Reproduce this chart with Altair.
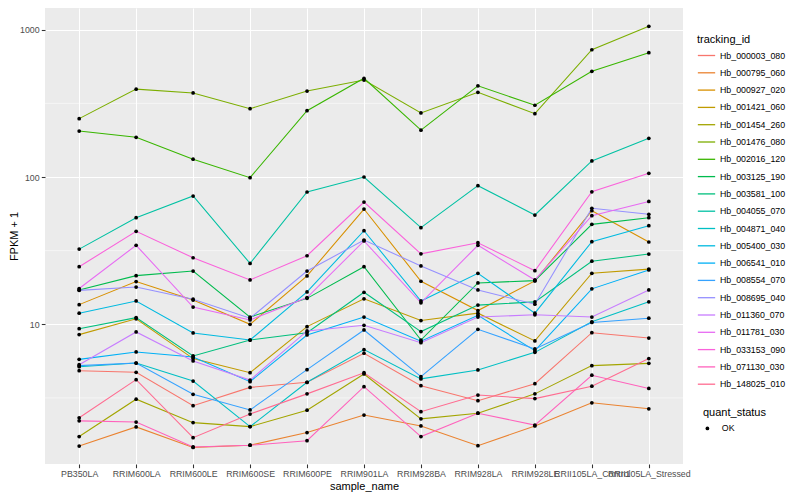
import altair as alt
import pandas as pd

samples = ["PB350LA", "RRIM600LA", "RRIM600LE", "RRIM600SE", "RRIM600PE", "RRIM901LA",
           "RRIM928BA", "RRIM928LA", "RRIM928LE", "RRII105LA_Control", "RRII105LA_Stressed"]

ids = ["Hb_000003_080", "Hb_000795_060", "Hb_000927_020", "Hb_001421_060", "Hb_001454_260",
       "Hb_001476_080", "Hb_002016_120", "Hb_003125_190", "Hb_003581_100", "Hb_004055_070",
       "Hb_004871_040", "Hb_005400_030", "Hb_006541_010", "Hb_008554_070", "Hb_008695_040",
       "Hb_011360_070", "Hb_011781_030", "Hb_033153_090", "Hb_071130_030", "Hb_148025_010"]

hb_000003_080 = [4.84, 4.72, 2.80, 3.73, 4.04, 6.36, 3.83, 3.03, 3.95, 8.77, 8.07]
hb_000795_060 = [1.49, 2.01, 1.46, 1.51, 1.84, 2.42, 2.04, 1.50, 2.04, 2.93, 2.67]
hb_000927_020 = [13.6, 19.5, 14.6, 10.0, 21.3, 60.6, 19.6, 12.4, 19.7, 59.0, 36.2]
hb_001421_060 = [8.51, 10.9, 5.85, 4.69, 9.64, 14.9, 10.6, 11.9, 7.71, 22.2, 23.7]
hb_001454_260 = [1.73, 3.10, 2.15, 2.02, 2.61, 4.60, 2.28, 2.49, 3.37, 5.24, 5.43]
hb_001476_080 = [249, 395, 372, 291, 383, 455, 272, 376, 269, 731, 1054]
hb_002016_120 = [205, 186, 132, 99, 282, 468, 208, 416, 307, 522, 698]
hb_003125_190 = [17.1, 21.4, 23.0, 11.2, 15.0, 24.6, 7.82, 19.1, 19.8, 47.7, 52.9]
hb_003581_100 = [9.33, 11.1, 6.1, 7.82, 8.77, 16.5, 8.92, 13.5, 14.2, 26.8, 30.0]
hb_004055_070 = [32.4, 52.9, 74.3, 25.9, 79.1, 100, 45.3, 87.3, 55.2, 128.5, 183]
hb_004871_040 = [5.15, 5.46, 4.12, 2.02, 4.04, 6.73, 4.26, 4.90, 6.45, 10.4, 14.2]
hb_005400_030 = [11.9, 14.4, 8.73, 7.82, 16.6, 43.2, 14.4, 22.2, 11.9, 36.4, 46.7]
hb_006541_010 = [5.78, 6.49, 6.0, 4.08, 8.46, 11.2, 7.67, 11.5, 6.62, 17.4, 23.4]
hb_008554_070 = [5.24, 5.46, 3.35, 2.62, 4.92, 9.15, 4.41, 9.25, 6.80, 10.3, 11.0]
hb_008695_040 = [17.0, 17.9, 14.8, 11.0, 23.0, 37.3, 24.9, 17.1, 13.7, 61.3, 55.8]
hb_011360_070 = [5.32, 8.87, 5.64, 4.18, 9.01, 9.84, 7.50, 11.2, 11.6, 11.2, 17.1]
hb_011781_030 = [17.5, 34.4, 13.1, 10.7, 15.2, 36.8, 14.0, 34.4, 20.0, 54.6, 68.2]
hb_033153_090 = [24.6, 42.8, 28.3, 20.0, 29.2, 67.6, 30.1, 35.8, 23.1, 79.4, 106]
hb_071130_030 = [2.21, 2.17, 1.47, 1.51, 1.62, 3.77, 1.73, 2.49, 2.07, 4.51, 3.67]
hb_148025_010 = [2.32, 4.21, 1.70, 2.46, 3.37, 4.69, 2.55, 3.31, 3.13, 3.80, 5.85]

series_values = [hb_000003_080, hb_000795_060, hb_000927_020, hb_001421_060, hb_001454_260,
                 hb_001476_080, hb_002016_120, hb_003125_190, hb_003581_100, hb_004055_070,
                 hb_004871_040, hb_005400_030, hb_006541_010, hb_008554_070, hb_008695_040,
                 hb_011360_070, hb_011781_030, hb_033153_090, hb_071130_030, hb_148025_010]

y_major = [10, 100, 1000]
y_minor = [3.162, 31.62, 316.2]

palette = ["#F8766D", "#EA8331", "#D89000", "#C09B00", "#A3A500", "#7CAE00", "#39B600",
           "#00BB4E", "#00BF7D", "#00C1A3", "#00BFC4", "#00BAE0", "#00B0F6", "#35A2FF",
           "#9590FF", "#C77CFF", "#E76BF3", "#FA62DB", "#FF62BC", "#FF6C91"]

rows = []
for tid, vals in zip(ids, series_values):
    for s, v in zip(samples, vals):
        rows.append({"tracking_id": tid, "sample_name": s, "fpkm": v, "quant_status": "OK"})
df = pd.DataFrame(rows)
minor_df = pd.DataFrame({"fpkm": y_minor})

FONT = "Liberation Sans"
yscale = alt.Scale(type="log", domain=[1.126, 1404], nice=False, zero=False)
yaxis = alt.Axis(values=y_major, format="d", grid=True, gridColor="white",
                 gridWidth=1.07, titlePadding=0)
xaxis = alt.Axis(labelAngle=0, labelOverlap=False, labelBound=False,
                 grid=True, gridColor="white", gridWidth=1.07)
xenc = alt.X("sample_name:N", sort=samples, title="sample_name",
             scale=alt.Scale(type="point", padding=0.6), axis=xaxis)
yenc = alt.Y("fpkm:Q", scale=yscale, title="FPKM + 1", axis=yaxis)

minor = alt.Chart(minor_df).mark_rule(color="white", strokeWidth=0.53).encode(y=yenc)

lines = alt.Chart(df).mark_line(strokeWidth=1.07).encode(
    x=xenc,
    y=yenc,
    color=alt.Color("tracking_id:N", scale=alt.Scale(domain=ids, range=palette),
                    legend=alt.Legend(title="tracking_id", orient="none", legendX=652, legendY=26,
                                      symbolType="stroke", symbolSize=300, symbolStrokeWidth=1.3,
                                      symbolOpacity=1, rowPadding=2.3, labelOffset=4,
                                      titlePadding=1, labelFontSize=8.8, titleFontSize=11)),
    detail="tracking_id:N",
)

points = alt.Chart(df).mark_point(filled=True, size=14, color="black", opacity=1).encode(
    x=xenc,
    y=yenc,
    shape=alt.Shape("quant_status:N", scale=alt.Scale(domain=["OK"], range=["circle"]),
                    legend=alt.Legend(title="quant_status", orient="none", legendX=658, legendY=399,
                                      symbolSize=14, symbolFillColor="black",
                                      symbolStrokeColor="black", labelOffset=10, titlePadding=6,
                                      labelFontSize=8.8, titleFontSize=11)),
)

chart = alt.layer(minor, lines, points).properties(
    width=638, height=456,
    padding={"left": 37, "top": 0, "right": 109, "bottom": 28},
    autosize=alt.AutoSizeParams(type="none"),
).configure_view(fill="#EBEBEB", stroke=None).configure_axis(
    labelFont=FONT, titleFont=FONT, labelFontSize=8.8, labelColor="#4D4D4D",
    titleFontSize=11, titleFontWeight="normal", titleColor="black",
    tickColor="#333333", tickSize=3.7, tickWidth=1.07, domain=False, labelPadding=2.2,
).configure_axisX(titlePadding=2).configure_legend(
    labelFont=FONT, titleFont=FONT, labelColor="black", titleColor="black",
    titleFontWeight="normal",
)

chart.save("out.html", embed_options={"renderer": "svg", "actions": False})
